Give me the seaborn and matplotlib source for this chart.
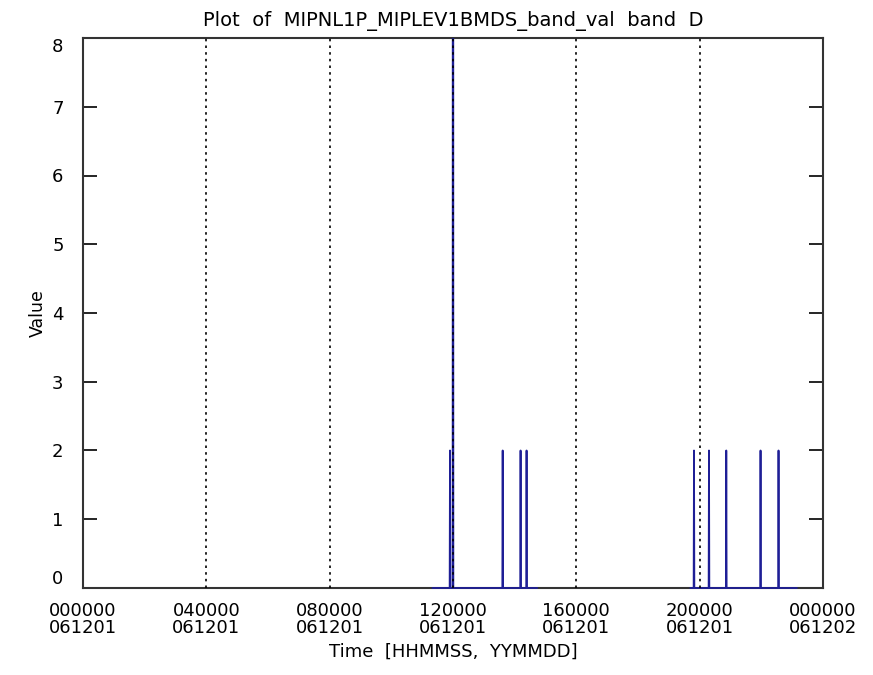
import numpy as np
import pandas as pd
import matplotlib
matplotlib.use("Agg")
import matplotlib.pyplot as plt
from matplotlib.patches import Rectangle
import seaborn as sns

# ---- data (seconds since 2006-12-01 00:00:00) ----
segment_starts = [40720, 70830]
segment_ends = [53110, 83430]
spike_times = [42850, 43200, 49000, 51090, 51790, 71340, 73090, 75110, 79110, 81210]
spike_values = [2, 40, 2, 2, 2, 2, 2, 2, 2, 2]

tick_positions = [0, 14400, 28800, 43200, 57600, 72000, 86400]
tick_labels = ["000000\n061201", "040000\n061201", "080000\n061201", "120000\n061201",
               "160000\n061201", "200000\n061201", "000000\n061202"]
y_ticks = [0, 1, 2, 3, 4, 5, 6, 7, 8]

title = "Plot  of  MIPNL1P_MIPLEV1BMDS_band_val  band  D"
xlabel = "Time  [HHMMSS,  YYMMDD]"
ylabel = "Value"

# ---- build series: baseline at 0 with narrow spikes ----
rows = []
half = 40
for seg, (s, e) in enumerate(zip(segment_starts, segment_ends)):
    rows.append((seg, s, 0))
    for t, v in zip(spike_times, spike_values):
        if s <= t <= e:
            rows.append((seg, t - half, 0))
            rows.append((seg, t, v))
            rows.append((seg, t + half, 0))
    rows.append((seg, e, 0))
df = pd.DataFrame(rows, columns=["segment", "time", "value"])

sns.set_theme(style="white")
plt.rcParams["font.family"] = ["DejaVu Sans"]
for k in ["text.color", "axes.labelcolor", "xtick.color", "ytick.color"]:
    plt.rcParams[k] = "black"

fig = plt.figure(figsize=(8.73, 6.75), dpi=100)
ax = fig.add_axes([0.0951, 0.1289, 0.8476, 0.8148])

sns.lineplot(data=df, x="time", y="value", units="segment", estimator=None,
             sort=False, color="#1e1e96", linewidth=1.3, ax=ax, legend=False)

ax.set_xlim(0, 86400)
ax.set_ylim(0, 8)

clip_rect = Rectangle((0, -0.01), 1, 1.01, transform=ax.transAxes,
                      facecolor="none", edgecolor="none")
ax.add_patch(clip_rect)
for ln in list(ax.lines):
    ln.set_zorder(5)
    ln.set_linewidth(1.3)
    ln.set_clip_path(clip_rect)
    ln.set_solid_capstyle("butt")

for t in tick_positions[1:-1]:
    ax.axvline(t, color="black", linestyle=(0, (1.5, 2.5)), linewidth=1.2, zorder=6)

ax.set_xticks(tick_positions)
ax.set_xticklabels(tick_labels, fontsize=13, linespacing=0.95)
ax.set_yticks(y_ticks)
ax.set_yticklabels([str(v) for v in y_ticks], fontsize=13)
ax.tick_params(axis="x", length=0, pad=10)
ax.tick_params(axis="y", direction="in", length=10, width=1.2, color="black",
               left=True, right=True, pad=14)
labels = ax.get_yticklabels()
labels[0].set_va("bottom")
labels[-1].set_va("top")

for sp in ax.spines.values():
    sp.set_color("#333333")
    sp.set_linewidth(1.5)
    sp.set_zorder(4)

ax.set_title(title, fontsize=14, pad=9)
ax.set_xlabel(xlabel, fontsize=13, labelpad=4)
ax.set_ylabel(ylabel, fontsize=12.5, labelpad=4)

fig.savefig("out.png", dpi=100)
